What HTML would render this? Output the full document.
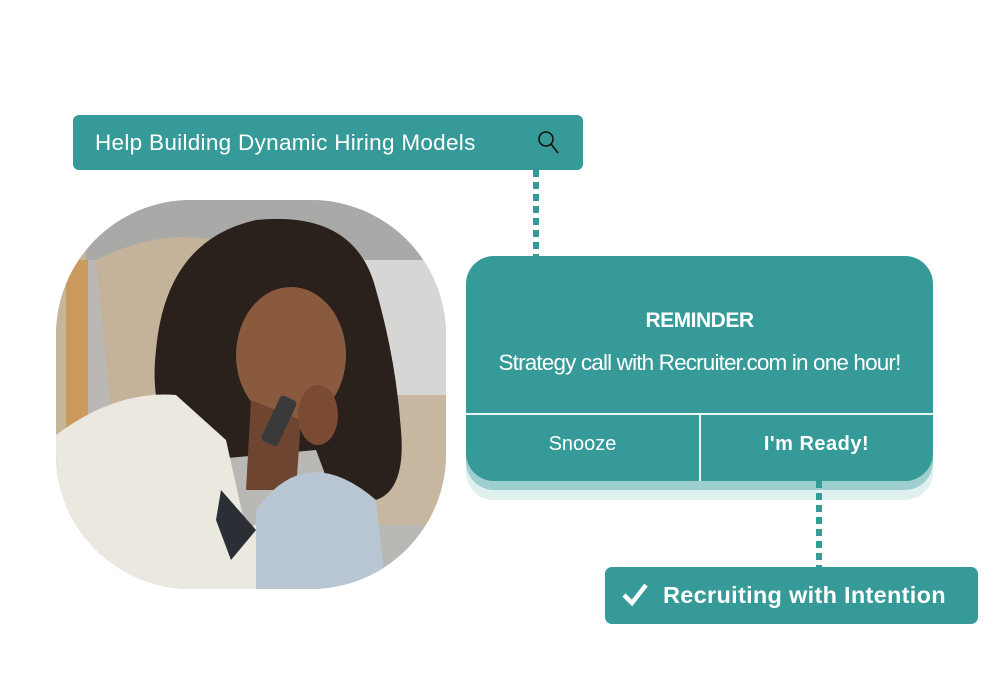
<!DOCTYPE html>
<html><head><meta charset="utf-8"><style>
body{margin:0;width:1000px;height:700px;background:#fff;position:relative;overflow:hidden;font-family:"Liberation Sans",sans-serif}
.t{position:absolute;background:#359a98;color:#fff}
.dot{position:absolute;width:6px;background:repeating-linear-gradient(#359a98 0 7px,transparent 7px 12px);z-index:5}
</style></head><body>
<div class="t" style="left:73px;top:115px;width:510px;height:55px;border-radius:6px">
<div style="position:absolute;left:22px;top:15px;font-size:22.5px;letter-spacing:0.3px">Help Building Dynamic Hiring Models</div>
<svg style="position:absolute;left:464px;top:14px" width="24" height="28"><circle cx="9" cy="10" r="7" fill="none" stroke="#111" stroke-width="1.6"/><line x1="14" y1="15" x2="21" y2="24" stroke="#111" stroke-width="1.6"/></svg>
</div>
<div class="dot" style="left:533px;top:170px;height:86px"></div>
<div class="dot" style="left:816px;top:481px;height:86px"></div>

<svg style="position:absolute;left:56px;top:200px" width="390" height="390">
<defs><clipPath id="c"><rect width="390" height="389" rx="135"/></clipPath></defs>
<g clip-path="url(#c)">
<rect width="390" height="390" fill="#b9b8b4"/>
<rect x="0" y="0" width="390" height="60" fill="#a9aaa8"/>
<rect x="290" y="60" width="100" height="140" fill="#d6d6d4"/>
<rect x="0" y="40" width="30" height="350" fill="#c7b59a"/>
<rect x="10" y="60" width="22" height="260" fill="#c99a5c"/>
<path d="M40 60 Q120 20 190 50 L200 250 L60 260 Z" fill="#c4b29a"/>
<rect x="285" y="195" width="105" height="130" fill="#c7b7a0"/>
<path d="M100 150 Q110 40 200 20 Q300 10 320 90 Q340 160 345 230 Q350 290 320 300 L290 330 L260 250 L150 260 Q90 240 100 150 Z" fill="#2a211c"/>
<ellipse cx="235" cy="155" rx="55" ry="68" fill="#8a5a3e"/>
<path d="M195 200 L245 220 L240 290 L190 290 Z" fill="#6e4530"/>
<path d="M0 235 Q60 190 120 195 L170 240 L190 330 L260 290 L290 370 L290 390 L0 390 Z" fill="#ebe8e0"/>
<path d="M165 290 L200 330 L175 360 L160 320 Z" fill="#2b2f35"/>
<path d="M200 310 Q250 240 320 300 L330 390 L200 390 Z" fill="#b7c6d2"/>
<ellipse cx="262" cy="215" rx="20" ry="30" fill="#7a4a32"/>
<rect x="212" y="195" width="18" height="50" rx="4" fill="#3a3a3a" transform="rotate(25 220 225)"/>
</g></svg>

<div style="position:absolute;left:466px;top:270px;width:467px;height:230px;border-radius:28px;background:#e0f0ef"></div>
<div style="position:absolute;left:466px;top:262px;width:467px;height:228px;border-radius:28px;background:#9ccfcd"></div>
<div class="t" style="left:466px;top:256px;width:467px;height:225px;border-radius:28px">
<div style="position:absolute;left:0;width:467px;top:53px;text-align:center;font-size:21px;font-weight:bold;letter-spacing:-0.5px">REMINDER</div>
<div style="position:absolute;left:0;width:467px;top:94px;text-align:center;font-size:22.5px;letter-spacing:-0.85px">Strategy call with Recruiter.com in one hour!</div>
<div style="position:absolute;left:0;top:157px;width:467px;height:1.5px;background:#e8f4f4"></div>
<div style="position:absolute;left:233px;top:157px;width:1.5px;height:68px;background:#e8f4f4"></div>
<div style="position:absolute;left:0;width:233px;top:177px;text-align:center;font-size:20px">Snooze</div>
<div style="position:absolute;left:234px;width:233px;top:177px;text-align:center;font-size:20px;font-weight:bold;letter-spacing:0.5px">I'm Ready!</div>
</div>

<div class="t" style="left:605px;top:567px;width:373px;height:57px;border-radius:7px">
<svg style="position:absolute;left:16px;top:15px" width="28" height="26"><path d="M3 13 L11 21 L25 3" fill="none" stroke="#fff" stroke-width="4.5"/></svg>
<div style="position:absolute;left:58px;top:15px;font-size:23.5px;font-weight:bold;letter-spacing:0.3px">Recruiting with Intention</div>
</div>
</body></html>
